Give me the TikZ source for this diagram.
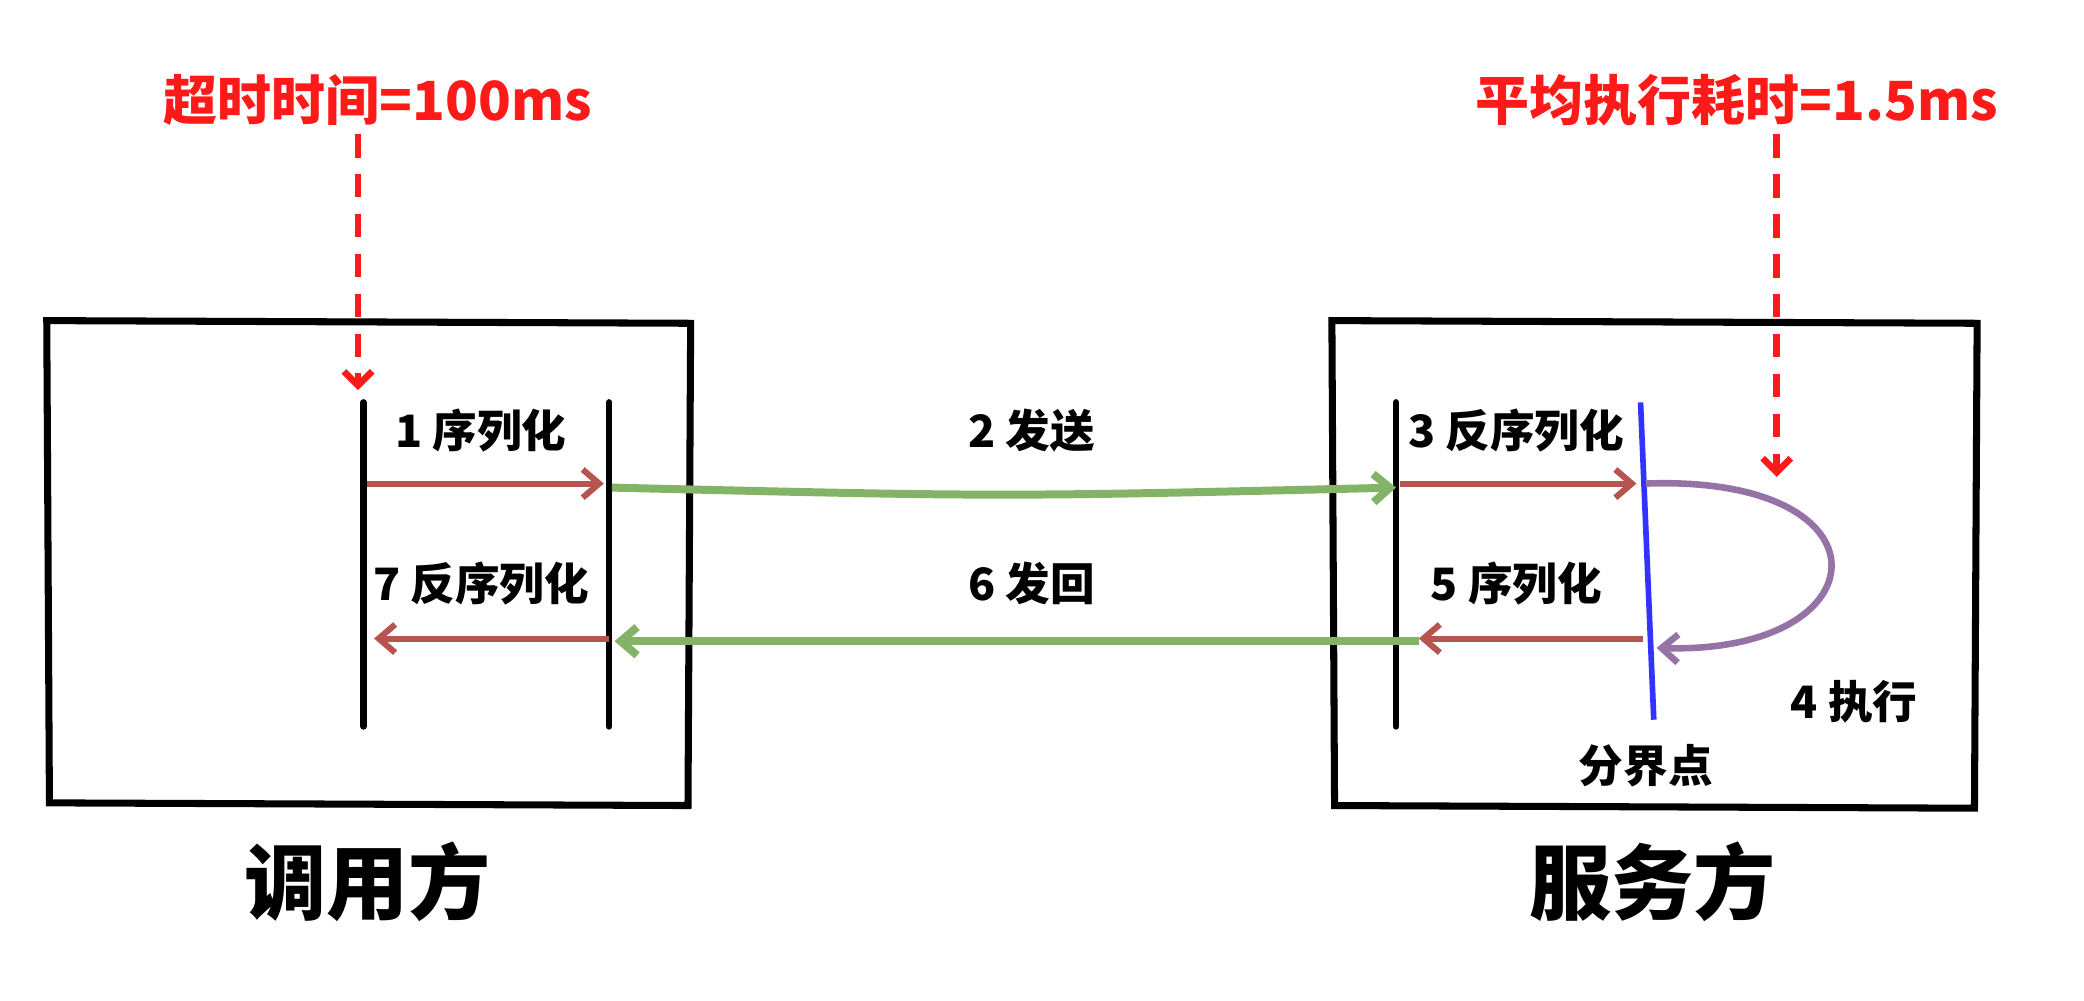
\documentclass[tikz,border=0pt]{standalone}
\usepackage{fontspec}
\setmainfont{Noto Sans CJK SC}
\usetikzlibrary{arrows.meta}
\definecolor{tored}{HTML}{FF1A1A}
\definecolor{serred}{HTML}{B85450}
\definecolor{netgreen}{HTML}{82B366}
\definecolor{exepurple}{HTML}{9673A6}
\definecolor{cutblue}{HTML}{3333FF}
\tikzset{
  boxline/.style={black,line width=3pt,line cap=round},
  bar/.style={black,line width=2.8pt,line cap=round},
  serarrow/.style={serred,line width=2.6pt,-{Straight Barb[length=7pt,width=12pt]}},
  netarrow/.style={netgreen,line width=3.4pt,-{Straight Barb[length=7pt,width=12pt]}},
  timearrow/.style={tored,line width=2.8pt,dashed,dash pattern=on 10pt off 7pt,-{Straight Barb[length=6pt,width=12pt]}},
  steplabel/.style={font=\fontsize{19}{22}\selectfont\bfseries},
  sidelabel/.style={font=\fontsize{35}{40}\selectfont\bfseries},
  timelabel/.style={text=tored,font=\fontsize{23}{26}\selectfont\bfseries},
}
\begin{document}
\begin{tikzpicture}[x=0.02cm,y=-0.02cm]
\useasboundingbox (0,0) rectangle (1560,749);
% boxes
\draw[boxline] (35,240) -- (517,242) -- (515,603) -- (37,601) -- cycle;
\draw[boxline] (997,240) -- (1480,242) -- (1478,605) -- (999,603) -- cycle;
% bars
\node[inner sep=0](lt) at (272,300){};
\node[inner sep=0](lb) at (272,545){};
\node[inner sep=0](mt) at (456,300){};
\node[inner sep=0](mb) at (456,545){};
\node[inner sep=0](rt) at (1045,300){};
\node[inner sep=0](rb) at (1045,545){};
\node[inner sep=0](bt) at (1228,300){};
\node[inner sep=0](bb) at (1238,540){};
\draw[bar](lt)--(lb);
\draw[bar](mt)--(mb);
\draw[bar](rt)--(rb);
\draw[cutblue,line width=2.4pt](bt)--(bb);
% timeouts
\node[timelabel](tout) at (283,75){超时时间=100ms};
\node[timelabel](tavg) at (1300,75){平均执行耗时=1.5ms};
\coordinate(toutend) at (268,292);
\coordinate(tavgend) at (1330,357);
\draw[timearrow](tout.south -| toutend)--(toutend);
\draw[timearrow](tavg.south -| tavgend)--(tavgend);
% step arrows
\coordinate(a1) at (275,362); \coordinate(a2) at (452,362);
\coordinate(a3) at (458,365); \coordinate(a4) at (1045,365);
\coordinate(a5) at (1048,362); \coordinate(a6) at (1225,362);
\coordinate(b1) at (1230,478); \coordinate(b2) at (1062,478);
\coordinate(b3) at (1062,480); \coordinate(b4) at (460,480);
\coordinate(b5) at (456,478); \coordinate(b6) at (280,478);
\draw[serarrow](a1)--(a2);
\draw[netarrow](a3) .. controls (750,372) .. (a4);
\draw[serarrow](a5)--(a6);
\draw[serarrow](b1)--(b2);
\draw[netarrow](b3)--(b4);
\draw[serarrow](b5)--(b6);
\draw[exepurple,line width=2.8pt,-{Straight Barb[length=7pt,width=12pt]}]
  (1232,362) .. controls (1420,355) and (1410,490) .. (1240,485);
% labels
\node[steplabel](s1) at (360,322){1 序列化};
\node[steplabel](s2) at (772,322){2 发送};
\node[steplabel](s3) at (1135,322){3 反序列化};
\node[steplabel](s4) at (1388,525){4 执行};
\node[steplabel](s5) at (1135,437){5 序列化};
\node[steplabel](s6) at (772,437){6 发回};
\node[steplabel](s7) at (360,437){7 反序列化};
\node[steplabel](cut) at (1232,573){分界点};
\node[sidelabel](caller) at (275,660){调用方};
\node[sidelabel](server) at (1237,660){服务方};
\end{tikzpicture}
\end{document}
